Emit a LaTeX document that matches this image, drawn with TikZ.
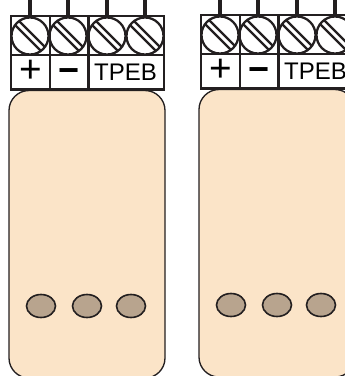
\documentclass[tikz,border=0pt]{standalone}
\usepackage{fontspec}
\setmainfont{Liberation Sans}
\definecolor{bodyfill}{HTML}{FBE4C8}
\definecolor{ledfill}{HTML}{B8A48E}
\definecolor{wirecol}{HTML}{231F20}
\tikzset{
  wire/.style={wirecol, line width=3.6pt},
  frame/.style={wirecol, line width=2pt},
  screw/.style={wirecol, line width=1.7pt},
  shell/.style={draw=wirecol, line width=1pt, fill=bodyfill, rounded corners=15pt},
  led/.style={draw=wirecol, line width=1.2pt, fill=ledfill},
}
\begin{document}
\begin{tikzpicture}[x=0.75pt,y=-0.75pt]

  \useasboundingbox (0,0) rectangle (345,376);
  \clip (0,0) rectangle (345,376);

  \foreach \ox/\oy/\n in {0/0/l,190/-1/r}{
    \begin{scope}[shift={(\ox,\oy)}]

      % wires and screws
      \foreach \cx in {30,68,107,145}{
        \draw[wire] (\cx,0) -- (\cx,17);
        \begin{scope}
          \clip (\cx,36) circle (18.5);
          \draw[screw] (\cx-15,36-19) -- (\cx+19,36+15);
          \draw[screw] (\cx-19,36-15) -- (\cx+15,36+19);
        \end{scope}
        \draw[screw] (\cx,36) circle (18.5);
      }

      % terminal block
      \draw[frame] (11,16) rectangle (164,89.5);
      \draw[frame] (11,55) -- (164,55);
      \draw[frame] (50,16) -- (50,89.5);
      \draw[frame] (88.5,16) -- (88.5,89.5);

      \node (plus\n) at (31,71) {\fontsize{29}{29}\selectfont +};
      \node (minus\n) at (69,76) {\fontsize{27}{27}\selectfont\bfseries −};
      \node (tpeb\n) at (125.5,72) {\fontsize{18}{18}\selectfont TPEB};

      % housing
      \draw[shell] (9,90.5) rectangle (165,378);

      \foreach \lx in {41,87,131}{
        \draw[led] (\lx,306) ellipse (14.5 and 11.5);
      }
    \end{scope}
  }

\end{tikzpicture}
\end{document}
